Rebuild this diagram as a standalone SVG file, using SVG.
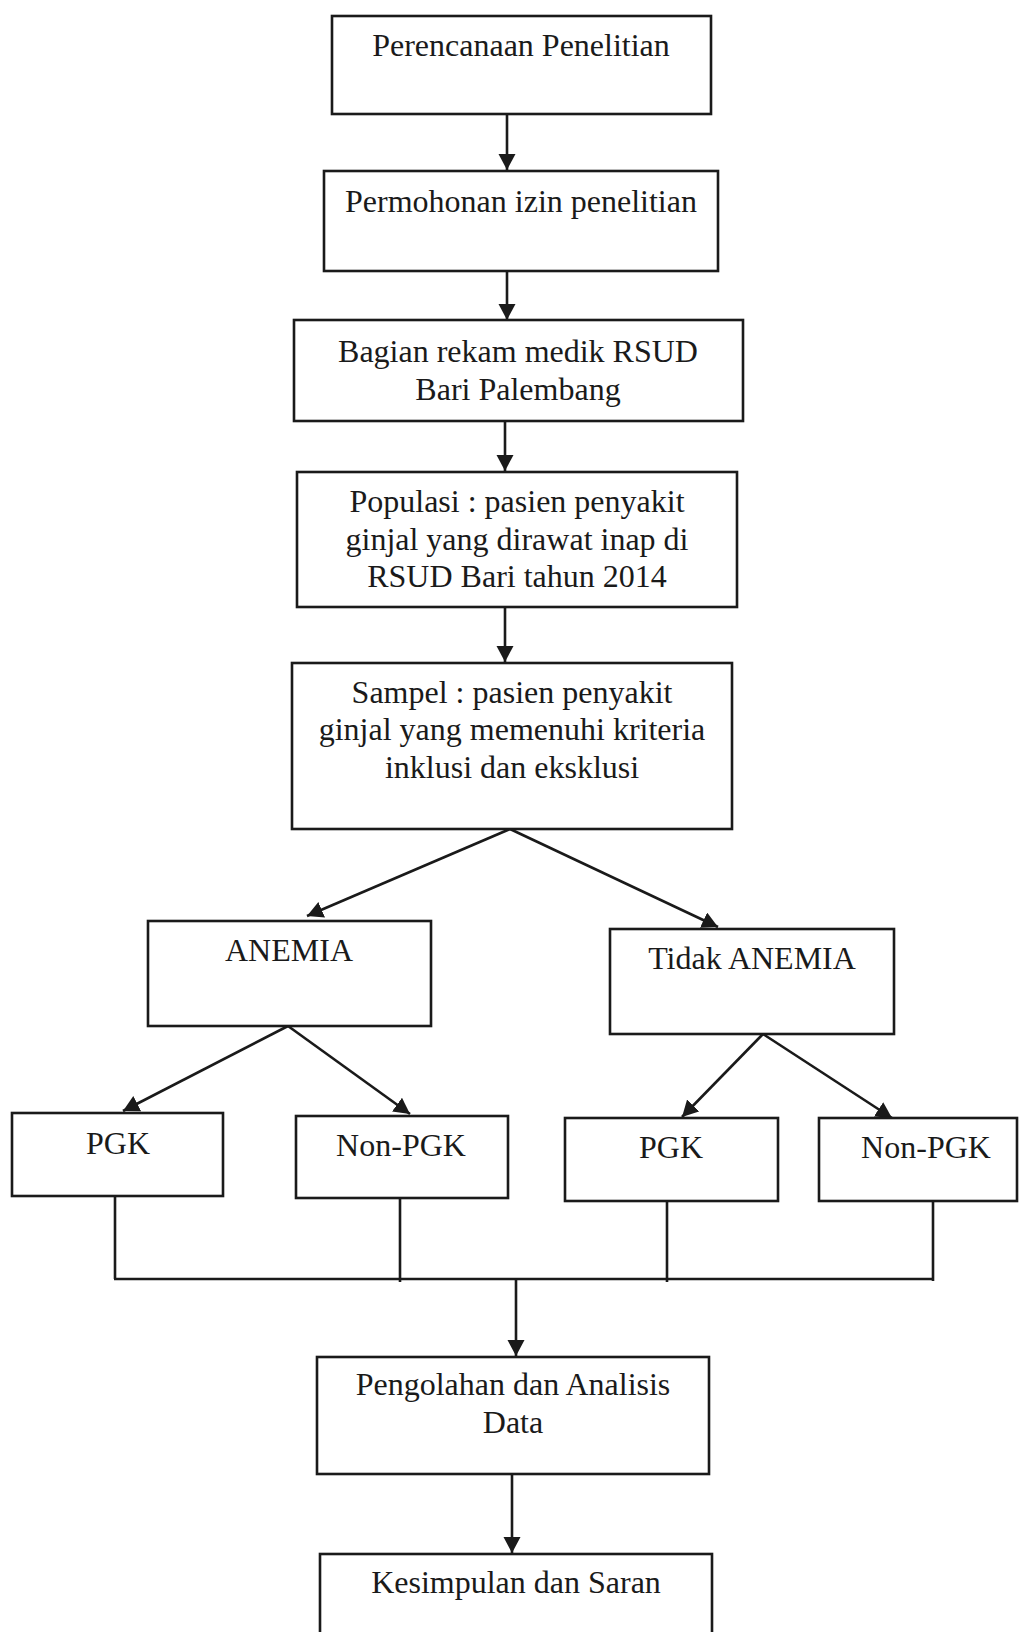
<svg xmlns="http://www.w3.org/2000/svg" width="1019" height="1632" viewBox="0 0 1019 1632">
<style>
.box{fill:#fff;stroke:#1a1a1a;stroke-width:2.6}
.t{font-family:"Liberation Serif","Times New Roman",serif;font-size:32px;fill:#1a1a1a;text-anchor:middle}
.c{fill:none;stroke:#1a1a1a;stroke-width:2.6}
</style>
<defs>
<marker id="ah" markerUnits="userSpaceOnUse" markerWidth="18" markerHeight="18" refX="16" refY="8.5" orient="auto">
<path d="M0,0 L16,8.5 L0,17 z" fill="#1a1a1a"/>
</marker>
</defs>
<rect width="1019" height="1632" fill="#fff"/>
<g id="connectors">
<line class="c" x1="507" y1="114" x2="507" y2="170" marker-end="url(#ah)"/>
<line class="c" x1="507" y1="271" x2="507" y2="320" marker-end="url(#ah)"/>
<line class="c" x1="505" y1="421" x2="505" y2="471" marker-end="url(#ah)"/>
<line class="c" x1="505" y1="607" x2="505" y2="662" marker-end="url(#ah)"/>
<line class="c" x1="510" y1="829" x2="307" y2="916" marker-end="url(#ah)"/>
<line class="c" x1="510" y1="829" x2="718" y2="927" marker-end="url(#ah)"/>
<line class="c" x1="288" y1="1026" x2="123" y2="1111" marker-end="url(#ah)"/>
<line class="c" x1="288" y1="1026" x2="410" y2="1114" marker-end="url(#ah)"/>
<line class="c" x1="763" y1="1034" x2="682" y2="1117" marker-end="url(#ah)"/>
<line class="c" x1="763" y1="1034" x2="892" y2="1118" marker-end="url(#ah)"/>
<line class="c" x1="115" y1="1196" x2="115" y2="1279"/>
<line class="c" x1="400" y1="1198" x2="400" y2="1282"/>
<line class="c" x1="667" y1="1201" x2="667" y2="1282"/>
<line class="c" x1="933" y1="1201" x2="933" y2="1281"/>
<line class="c" x1="114" y1="1279" x2="934" y2="1279"/>
<line class="c" x1="516" y1="1279" x2="516" y2="1356" marker-end="url(#ah)"/>
<line class="c" x1="512" y1="1474" x2="512" y2="1553" marker-end="url(#ah)"/>
</g>
<g id="n1"><rect class="box" x="332" y="16" width="379" height="98"/><text class="t" x="521" y="56">Perencanaan Penelitian</text></g>
<g id="n2"><rect class="box" x="324" y="171" width="394" height="100"/><text class="t" x="521" y="212">Permohonan izin penelitian</text></g>
<g id="n3"><rect class="box" x="294" y="320" width="449" height="101"/><text class="t" x="518" y="362">Bagian rekam medik RSUD</text><text class="t" x="518" y="400">Bari Palembang</text></g>
<g id="n4"><rect class="box" x="297" y="472" width="440" height="135"/><text class="t" x="517" y="512">Populasi : pasien penyakit</text><text class="t" x="517" y="550">ginjal yang dirawat inap di</text><text class="t" x="517" y="587">RSUD Bari tahun 2014</text></g>
<g id="n5"><rect class="box" x="292" y="663" width="440" height="166"/><text class="t" x="512" y="703">Sampel : pasien penyakit</text><text class="t" x="512" y="740">ginjal yang memenuhi kriteria</text><text class="t" x="512" y="778">inklusi dan eksklusi</text></g>
<g id="n6"><rect class="box" x="148" y="921" width="283" height="105"/><text class="t" x="289" y="961">ANEMIA</text></g>
<g id="n7"><rect class="box" x="610" y="929" width="284" height="105"/><text class="t" x="752" y="969">Tidak ANEMIA</text></g>
<g id="n8"><rect class="box" x="12" y="1113" width="211" height="83"/><text class="t" x="118" y="1154">PGK</text></g>
<g id="n9"><rect class="box" x="296" y="1116" width="212" height="82"/><text class="t" x="401" y="1156">Non-PGK</text></g>
<g id="n10"><rect class="box" x="565" y="1118" width="213" height="83"/><text class="t" x="671" y="1158">PGK</text></g>
<g id="n11"><rect class="box" x="819" y="1118" width="198" height="83"/><text class="t" x="926" y="1158">Non-PGK</text></g>
<g id="n12"><rect class="box" x="317" y="1357" width="392" height="117"/><text class="t" x="513" y="1395">Pengolahan dan Analisis</text><text class="t" x="513" y="1433">Data</text></g>
<g id="n13"><rect class="box" x="320" y="1554" width="392" height="90"/><text class="t" x="516" y="1593">Kesimpulan dan Saran</text></g>
</svg>
